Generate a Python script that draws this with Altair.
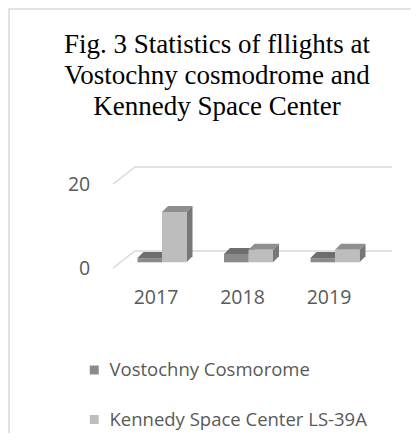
import altair as alt
import pandas as pd

# ---------------- data ----------------
years = ["2017", "2018", "2019"]
series = ["Vostochny Cosmorome", "Kennedy Space Center LS-39A"]
vostochny = [1, 2, 1]
kennedy = [12, 3, 3]
grid_values = [0, 20]
title_lines = ["Fig. 3 Statistics of fllights at",
               "Vostochny cosmodrome and",
               "Kennedy Space Center"]

# ---------------- style ----------------
front_colors = ["#8a8a8a", "#bdbdbd"]
top_colors = ["#6e6e6e", "#8f8f8f"]
side_colors = ["#5e5e5e", "#777777"]
grid_color = "#d9d9d9"
text_color = "#595959"

# ---------------- layout (pseudo-3D geometry) ----------------
PX_PER_CAT = 86.5
PX_PER_UNIT = 4.2
X_DOMAIN = [-0.72, 2.7]
Y_DOMAIN = [-4.5, 28]
W = (X_DOMAIN[1] - X_DOMAIN[0]) * PX_PER_CAT
H = (Y_DOMAIN[1] - Y_DOMAIN[0]) * PX_PER_UNIT
PL = 162 + X_DOMAIN[0] * PX_PER_CAT   # page x of plot left
PT = 268 - Y_DOMAIN[1] * PX_PER_UNIT  # page y of plot top
BAR_W = 24.5 / PX_PER_CAT
DX = 6 / PX_PER_CAT
DY = 6 / PX_PER_UNIT
BASE = 5.7 / PX_PER_UNIT
FLOOR_BACK = 17 / PX_PER_UNIT
FLOOR_X0 = (113 - 162) / PX_PER_CAT
FLOOR_X1 = (135 - 162) / PX_PER_CAT
GRID_END = (392 - 162) / PX_PER_CAT

values = [vostochny, kennedy]
front_rows, top_rows, side_rows = [], [], []
for s, name in enumerate(series):
    for i, (yr, v) in enumerate(zip(years, values[s])):
        L = i - BAR_W + s * BAR_W
        R = L + BAR_W
        bid = f"{s}-{i}"
        front_rows.append(dict(series=name, year=yr, x=L, x2=R, y=BASE, y2=BASE + v, value=v))
        top_rows += [dict(series=name, id=bid, y=BASE + v, x=L, x2=R),
                     dict(series=name, id=bid, y=BASE + v + DY, x=L + DX, x2=R + DX)]
        side_rows += [dict(series=name, id=bid, x=R, y=BASE, y2=BASE + v),
                      dict(series=name, id=bid, x=R + DX, y=BASE + DY, y2=BASE + v + DY)]

grid_rows = []
for g in grid_values:
    grid_rows += [dict(g=g, x=FLOOR_X0, y=g, o=0),
                  dict(g=g, x=FLOOR_X1, y=g + FLOOR_BACK, o=1),
                  dict(g=g, x=GRID_END, y=g + FLOOR_BACK, o=2)]

front_df = pd.DataFrame(front_rows)
top_df = pd.DataFrame(top_rows)
side_df = pd.DataFrame(side_rows)
grid_df = pd.DataFrame(grid_rows)

xs = alt.Scale(domain=X_DOMAIN, nice=False, zero=False)
ys = alt.Scale(domain=Y_DOMAIN, nice=False, zero=False)

label_expr = "[" + ",".join(f"'{y}'" for y in years) + "][datum.value]"
x_axis = alt.Axis(values=[0, 1, 2], labelExpr=label_expr, title=None, grid=False,
                  domain=False, ticks=False, tickSize=0, labelPadding=2,
                  labelOffset=-6.5, labelFontSize=19.5, labelFont="Open Sans",
                  labelColor=text_color, labelFlush=False, labelOverlap=False)
y_axis = alt.Axis(values=grid_values, title=None, grid=False, domain=False,
                  ticks=False, tickSize=0, labelPadding=10, labelFontSize=19.5,
                  labelFont="Open Sans", labelColor=text_color, labelFlush=False,
                  labelOverlap=False)

X = lambda f="x": alt.X(f"{f}:Q", scale=xs, axis=x_axis)
Y = lambda f="y": alt.Y(f"{f}:Q", scale=ys, axis=y_axis)

grid = alt.Chart(grid_df).mark_line(color=grid_color, strokeWidth=1.5).encode(
    x=X(), y=Y(), detail="g:N", order="o:Q")

legend = alt.Legend(orient="none", legendX=85 - PL, legendY=(370 - 9.25) - PT,
                    direction="vertical", title=None, symbolType="square",
                    symbolSize=80, symbolStrokeWidth=0, labelFontSize=18.5,
                    labelFont="Open Sans", labelColor=text_color, labelOffset=6,
                    rowPadding=30.5, padding=0, labelLimit=400)
color = alt.Color("series:N", scale=alt.Scale(domain=series, range=front_colors), legend=legend)

layers = [grid]
for s, name in enumerate(series):
    flt = alt.datum.series == name
    side = alt.Chart(side_df).transform_filter(flt).mark_area(
        orient="vertical", color=side_colors[s]).encode(
        x=X(), y=Y(), y2="y2:Q", detail="id:N")
    top = alt.Chart(top_df).transform_filter(flt).mark_area(
        orient="horizontal", color=top_colors[s]).encode(
        y=Y(), x=X(), x2="x2:Q", detail="id:N")
    front = alt.Chart(front_df).transform_filter(flt).mark_rect().encode(
        x=X(), x2="x2:Q", y=Y(), y2="y2:Q", color=color)
    layers += [side, top, front]

title = alt.Chart(pd.DataFrame({"t": [0]})).mark_text(
    text=title_lines, font="Liberation Serif", fontSize=27, lineHeight=31,
    align="center", baseline="top", color="black").encode(
    x=alt.value(217 - PL), y=alt.value(32 - PT))

border = alt.Chart(pd.DataFrame({"t": [0]})).mark_rect(
    filled=False, stroke=grid_color, strokeWidth=1.5, clip=False).encode(
    x=alt.value(9 - PL), y=alt.value(9 - PT), x2=alt.value(700), y2=alt.value(700))

layers += [title, border]

chart = alt.layer(*layers).properties(
    width=W, height=H,
    autosize=alt.AutoSizeParams(type="none"),
    padding={"left": PL - 8, "top": PT - 8, "right": 411 - (PL + W), "bottom": 433 - (PT + H)},
).configure_view(stroke=None)

chart.save("out.html", embed_options={"renderer": "svg", "actions": False})
